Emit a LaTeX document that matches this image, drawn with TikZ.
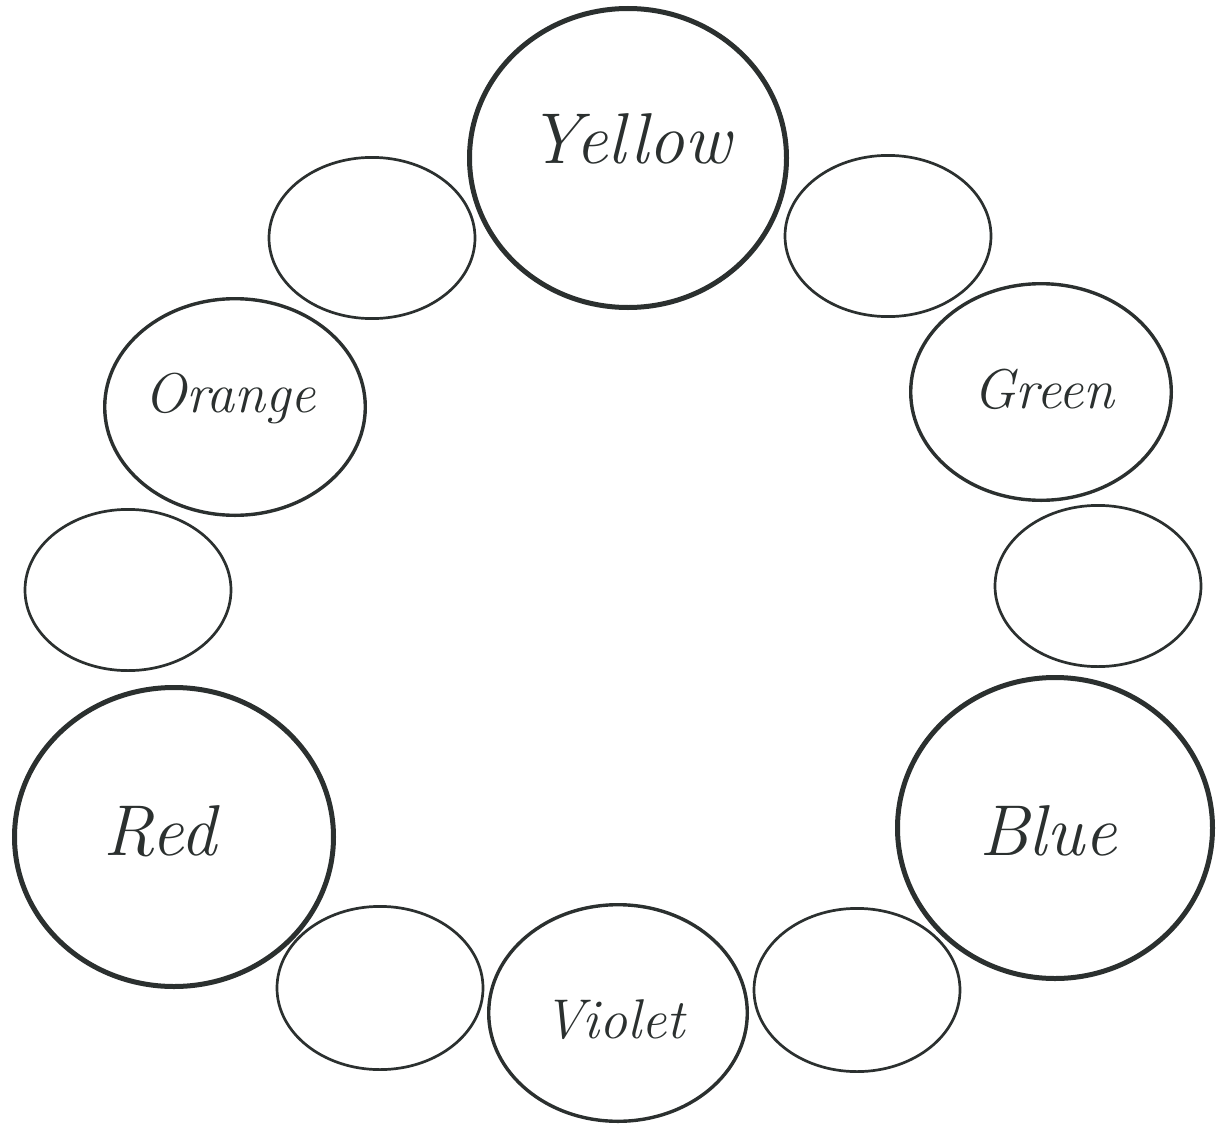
\documentclass[tikz,border=0pt]{standalone}
\usepackage{fontspec}
\usetikzlibrary{shapes.geometric}
\definecolor{ink}{HTML}{2B302F}
\begin{document}
\begin{tikzpicture}[x=0.5pt,y=-0.5pt,
  ring/.style={ellipse,draw=ink,inner sep=0pt,outer sep=0pt},
  primary/.style={ring,line width=2.5pt},
  secondary/.style={ring,line width=1.7pt},
  tertiary/.style={ring,line width=1.35pt,minimum width=103pt,minimum height=80.6pt},
  bigname/.style={anchor=base,text=ink,inner sep=0pt,font=\itshape\fontsize{36}{42}\selectfont},
  midname/.style={anchor=base,text=ink,inner sep=0pt,font=\itshape\fontsize{28}{33}\selectfont}]
\useasboundingbox (0,0) rectangle (1216,1124);

% primary colours
\node[primary,minimum width=158.5pt,minimum height=149.5pt] (yellow) at (628,158) {};
\node[primary,minimum width=159.5pt,minimum height=149.5pt] (red) at (174,837) {};
\node[primary,minimum width=157.5pt,minimum height=150.5pt] (blue) at (1055,828) {};

% secondary colours
\node[secondary,minimum width=130.3pt,minimum height=108.3pt] (orange) at (235,407) {};
\node[secondary,minimum width=130.3pt,minimum height=108.3pt] (green) at (1041,392) {};
\node[secondary,minimum width=129.3pt,minimum height=108.3pt] (violet) at (618,1013) {};

% tertiary colours (left blank)
\node[tertiary] (yo) at (372,238) {};
\node[tertiary] (yg) at (888,236) {};
\node[tertiary] (ro) at (128,590) {};
\node[tertiary] (bg) at (1098,586) {};
\node[tertiary,minimum height=81.6pt] (rv) at (380,988) {};
\node[tertiary,minimum height=81.6pt] (bv) at (857,990) {};

% names
\node[bigname] (yellowname) at (630,163) {Yellow};
\node[bigname] (redname) at (160,855) {Red};
\node[bigname] (bluename) at (1048,855) {Blue};
\node[midname] (orangename) at (230,412) {Orange};
\node[midname] (greenname) at (1044,408) {Green};
\node[midname] (violetname) at (614,1038) {Violet};
\end{tikzpicture}
\end{document}
